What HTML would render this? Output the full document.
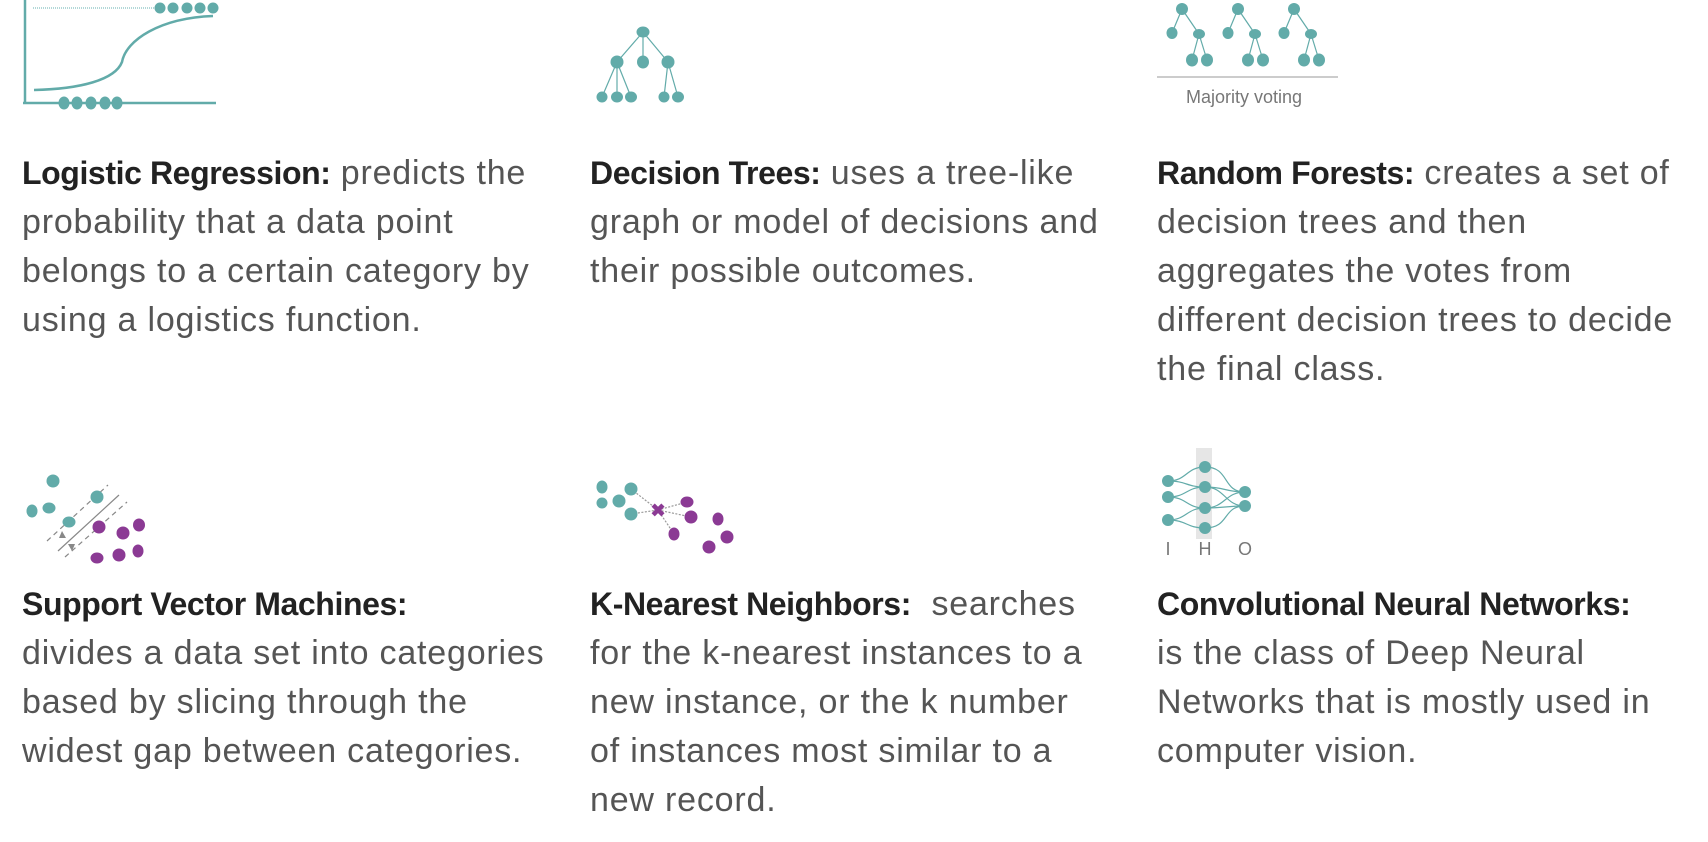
<!DOCTYPE html>
<html><head><meta charset="utf-8"><style>
body{margin:0;width:1708px;height:842px;background:#fff;overflow:hidden;position:relative;font-family:"Liberation Sans",sans-serif}
.txt{position:absolute;font-size:34px;line-height:49px;color:#555;white-space:nowrap;letter-spacing:0.8px}
.txt b{color:#222;letter-spacing:-0.4px;font-size:32px}
svg{position:absolute;left:0;top:0}
</style></head><body>
<svg width="1708" height="842">
<g fill="#62aba9" stroke="#62aba9">
<line x1="25" y1="0" x2="25" y2="103" stroke-width="2.5"/>
<line x1="23" y1="103" x2="216" y2="103" stroke-width="2.5"/>
<line x1="33" y1="8" x2="158" y2="8" stroke-width="1.5" stroke-dasharray="1,1" stroke="#9cc"/>
<path d="M34 90 C80 89,115 80,122 62 C126 40,160 18,213 16" fill="none" stroke-width="2.5"/>
<g stroke="none"><ellipse cx="160" cy="8" rx="5.5" ry="5.5"/><ellipse cx="173" cy="8" rx="5.5" ry="5.5"/><ellipse cx="187" cy="8" rx="5.5" ry="5.5"/><ellipse cx="200" cy="8" rx="5.5" ry="5.5"/><ellipse cx="213" cy="8" rx="5.5" ry="5.5"/>
<ellipse cx="64" cy="103" rx="5.5" ry="6.5"/><ellipse cx="77" cy="103" rx="5.5" ry="6.5"/><ellipse cx="91" cy="103" rx="5.5" ry="6.5"/><ellipse cx="105" cy="103" rx="5.5" ry="6.5"/><ellipse cx="117" cy="103" rx="5.5" ry="6.5"/></g>
</g>
<g fill="#62aba9" stroke="#62aba9" stroke-width="1.2">
<line x1="643" y1="32" x2="617" y2="62"/><line x1="643" y1="32" x2="643" y2="62"/><line x1="643" y1="32" x2="668" y2="62"/>
<line x1="617" y1="62" x2="602" y2="97"/><line x1="617" y1="62" x2="617" y2="97"/><line x1="617" y1="62" x2="631" y2="97"/>
<line x1="668" y1="62" x2="664" y2="97"/><line x1="668" y1="62" x2="678" y2="97"/>
<g stroke="none"><ellipse cx="643" cy="32" rx="6.5" ry="5.5"/><ellipse cx="617" cy="62" rx="6.5" ry="6.5"/><ellipse cx="643" cy="62" rx="6" ry="6.5"/><ellipse cx="668" cy="62" rx="6.5" ry="6.5"/>
<ellipse cx="602" cy="97" rx="5.5" ry="5.5"/><ellipse cx="617" cy="97" rx="6" ry="5.5"/><ellipse cx="631" cy="97" rx="6" ry="5.5"/><ellipse cx="664" cy="97" rx="5.5" ry="5.5"/><ellipse cx="678" cy="97" rx="6" ry="5.5"/></g>
</g>
<g fill="#62aba9" stroke="#62aba9" stroke-width="1.2">
<g id="t"><line x1="1182" y1="9" x2="1172" y2="33"/><line x1="1182" y1="9" x2="1199" y2="34"/><line x1="1199" y1="34" x2="1192" y2="60"/><line x1="1199" y1="34" x2="1207" y2="60"/>
<g stroke="none"><ellipse cx="1182" cy="9" rx="6" ry="6"/><ellipse cx="1172" cy="33" rx="5.5" ry="6"/><ellipse cx="1199" cy="34" rx="6" ry="5"/><ellipse cx="1192" cy="60" rx="6" ry="6.5"/><ellipse cx="1207" cy="60" rx="6" ry="6.5"/></g></g>
<use href="#t" x="56"/><use href="#t" x="112"/>
<line x1="1157" y1="77" x2="1338" y2="77" stroke="#bbb" stroke-width="1.5"/>
<text x="1244" y="103" text-anchor="middle" font-size="18" fill="#777" stroke="none" font-family="Liberation Sans,sans-serif">Majority voting</text>
</g>
<g>
<line x1="47" y1="541" x2="108" y2="485" stroke="#888" stroke-width="1.2" stroke-dasharray="5,4"/>
<line x1="58" y1="551" x2="119" y2="495" stroke="#888" stroke-width="1.2"/>
<line x1="65" y1="557" x2="127" y2="502" stroke="#888" stroke-width="1.2" stroke-dasharray="5,4"/>
<path d="M62 531 l4 7 l-7 0z M72 551 l-4 -7 l7 0z" fill="#888"/>
<g fill="#62aba9"><ellipse cx="53" cy="481" rx="6.5" ry="6.5"/><ellipse cx="32" cy="511" rx="5.5" ry="6.5"/><ellipse cx="49" cy="508" rx="6.5" ry="5.5"/><ellipse cx="69" cy="522" rx="6.5" ry="5.5"/><ellipse cx="97" cy="497" rx="6.5" ry="6.5"/></g>
<g fill="#8b3a94"><ellipse cx="99" cy="527" rx="6.5" ry="6.5"/><ellipse cx="123" cy="533" rx="6.5" ry="6.5"/><ellipse cx="139" cy="525" rx="6" ry="6.5"/><ellipse cx="97" cy="558" rx="6.5" ry="5.5"/><ellipse cx="119" cy="555" rx="6.5" ry="6.5"/><ellipse cx="138" cy="551" rx="5.5" ry="6.5"/></g>
</g>
<g>
<g stroke="#999" stroke-width="1.2" stroke-dasharray="2,1.5"><line x1="631" y1="489" x2="658" y2="510"/><line x1="631" y1="514" x2="658" y2="510"/><line x1="687" y1="502" x2="658" y2="510"/><line x1="691" y1="517" x2="658" y2="510"/><line x1="674" y1="534" x2="658" y2="510"/></g>
<g fill="#62aba9"><ellipse cx="602" cy="487" rx="5.5" ry="6.5"/><ellipse cx="631" cy="489" rx="6.5" ry="6.5"/><ellipse cx="602" cy="503" rx="5.5" ry="5.5"/><ellipse cx="619" cy="501" rx="6.5" ry="6.5"/><ellipse cx="631" cy="514" rx="6.5" ry="6.5"/></g>
<text x="658" y="510" dy="0.35em" text-anchor="middle" font-size="18" font-weight="bold" fill="#8b3a94" font-family="Liberation Sans,sans-serif">✖</text>
<g fill="#8b3a94"><ellipse cx="687" cy="502" rx="6.5" ry="5.5"/><ellipse cx="691" cy="517" rx="6.5" ry="6.5"/><ellipse cx="674" cy="534" rx="5.5" ry="6.5"/><ellipse cx="718" cy="519" rx="5.5" ry="6.5"/><ellipse cx="727" cy="537" rx="6.5" ry="6.5"/><ellipse cx="709" cy="547" rx="6.5" ry="6.5"/></g>
</g>
<g>
<rect x="1196" y="448" width="16" height="91" fill="#e6e6e6"/>
<g stroke="#62aba9" stroke-width="1.2" fill="none">
<path d="M1168 481 C1187 481,1186 467,1205 467"/><path d="M1168 481 C1187 481,1186 487,1205 487"/>
<path d="M1168 497 C1187 497,1186 487,1205 487"/><path d="M1168 497 C1187 497,1186 508,1205 508"/>
<path d="M1168 520 C1187 520,1186 508,1205 508"/><path d="M1168 520 C1187 520,1186 528,1205 528"/>
<path d="M1205 467 C1230 467,1222 492,1245 492"/><path d="M1205 487 C1225 487,1225 492,1245 492"/><path d="M1205 487 C1225 487,1225 506,1245 506"/><path d="M1205 508 C1225 508,1225 492,1245 492"/><path d="M1205 508 C1225 508,1225 506,1245 506"/><path d="M1205 528 C1230 528,1222 506,1245 506"/>
</g>
<g fill="#62aba9"><circle cx="1168" cy="481" r="6"/><circle cx="1168" cy="497" r="6"/><circle cx="1168" cy="520" r="6"/><circle cx="1205" cy="467" r="6"/><circle cx="1205" cy="487" r="6"/><circle cx="1205" cy="508" r="6"/><circle cx="1205" cy="528" r="6"/><circle cx="1245" cy="492" r="6"/><circle cx="1245" cy="506" r="6"/></g>
<g fill="#777" font-size="18" text-anchor="middle" font-family="Liberation Sans,sans-serif"><text x="1168" y="555">I</text><text x="1205" y="555">H</text><text x="1245" y="555">O</text></g>
</g>
</svg>

<div class="txt" style="left:22px;top:149px"><b>Logistic Regression:</b> predicts the<br>probability that a data point<br>belongs to a certain category by<br>using a logistics function.</div>
<div class="txt" style="left:590px;top:149px"><b>Decision Trees:</b> uses a tree-like<br>graph or model of decisions and<br>their possible outcomes.</div>
<div class="txt" style="left:1157px;top:149px"><b>Random Forests:</b> creates a set of<br>decision trees and then<br>aggregates the votes from<br>different decision trees to decide<br>the final class.</div>
<div class="txt" style="left:22px;top:580px"><b>Support Vector Machines:</b><br>divides a data set into categories<br>based by slicing through the<br>widest gap between categories.</div>
<div class="txt" style="left:590px;top:580px"><b>K-Nearest Neighbors:</b>&nbsp; searches<br>for the k-nearest instances to a<br>new instance, or the k number<br>of instances most similar to a<br>new record.</div>
<div class="txt" style="left:1157px;top:580px"><b>Convolutional Neural Networks:</b><br>is the class of Deep Neural<br>Networks that is mostly used in<br>computer vision.</div>
</body></html>
